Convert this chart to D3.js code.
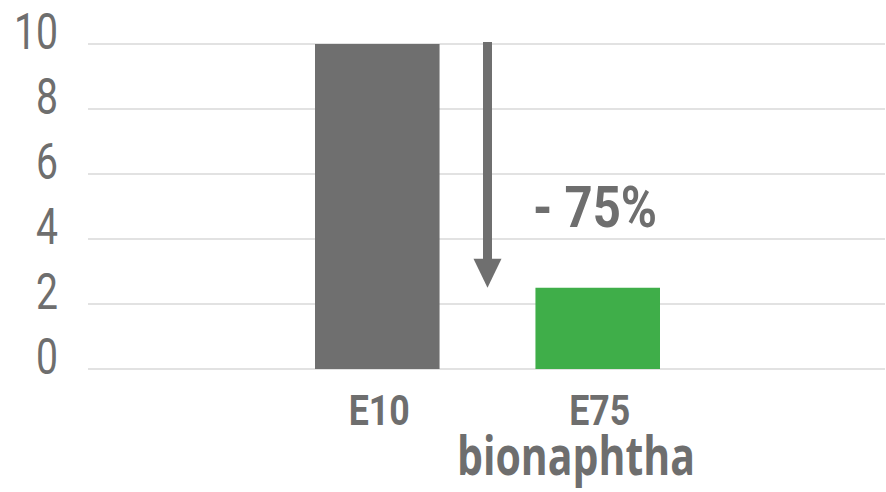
<!DOCTYPE html>
<html>
<head>
<meta charset="utf-8">
<script src="https://cdn.jsdelivr.net/npm/d3@7"></script>
<style>
  body { margin: 0; background: #fff; }
  svg { display: block; }
</style>
</head>
<body>
<div id="chart"></div>
<script>
const categories = ['E10', 'E75'];
const values = [10, 2.5];
const barColors = ['#6f6f6f', '#3fae49'];
const yTicks = [0, 2, 4, 6, 8, 10];
const changeLabel = '- 75%';
const subLabel = 'bionaphtha';

const width = 886, height = 492;
const narrow = 'Roboto, "Liberation Sans", sans-serif';

const svg = d3.select('#chart')
  .append('svg')
    .attr('width', width)
    .attr('height', height);

const x = d3.scaleBand()
  .domain(categories)
  .range([315, 660])
  .paddingInner(0.435)
  .paddingOuter(0);

const y = d3.scaleLinear()
  .domain([0, 10])
  .range([369, 44]);

// gridlines
svg.append('g')
  .selectAll('line')
  .data(yTicks)
  .enter().append('line')
    .attr('x1', 88)
    .attr('x2', 885)
    .attr('y1', d => y(d))
    .attr('y2', d => y(d))
    .attr('stroke', '#e2e2e2')
    .attr('stroke-width', 2);

// y tick labels (sit above each line), squeezed to look condensed
svg.append('g')
  .selectAll('text')
  .data(yTicks)
  .enter().append('text')
    .attr('x', 58)
    .attr('y', d => y(d) + 5)
    .attr('text-anchor', 'end')
    .attr('textLength', d => String(d).length * 22)
    .attr('lengthAdjust', 'spacingAndGlyphs')
    .style('font-family', narrow)
    .style('font-weight', 400)
    .style('font-size', '50px')
    .style('fill', '#6e6e6e')
    .text(d => d);

// bars
svg.append('g')
  .selectAll('rect')
  .data(categories)
  .enter().append('rect')
    .attr('x', d => x(d))
    .attr('width', x.bandwidth())
    .attr('y', (d, i) => y(values[i]))
    .attr('height', (d, i) => y(0) - y(values[i]))
    .attr('fill', (d, i) => barColors[i]);

// category labels
svg.append('g')
  .selectAll('text')
  .data(categories)
  .enter().append('text')
    .attr('x', d => x(d) + x.bandwidth() / 2 + 2)
    .attr('y', 425)
    .attr('text-anchor', 'middle')
    .attr('textLength', 61)
    .attr('lengthAdjust', 'spacingAndGlyphs')
    .style('font-family', narrow)
    .style('font-weight', 'bold')
    .style('font-size', '42px')
    .style('fill', '#6e6e6e')
    .text(d => d);

// arrow between the bars
const ax = (x(categories[0]) + x.bandwidth() + x(categories[1])) / 2;
const headTop = y(values[1]) - 29;
svg.append('line')
  .attr('x1', ax)
  .attr('x2', ax)
  .attr('y1', y(values[0]) - 2)
  .attr('y2', headTop + 1)
  .attr('stroke', '#6f6f6f')
  .attr('stroke-width', 9);

svg.append('path')
  .attr('d', `M${ax - 14},${headTop} L${ax + 14},${headTop} L${ax},${y(values[1])} Z`)
  .attr('fill', '#6f6f6f');

// change label
svg.append('text')
  .attr('x', 533)
  .attr('y', 227)
  .attr('textLength', 124)
  .attr('lengthAdjust', 'spacingAndGlyphs')
  .style('font-family', narrow)
  .style('font-weight', 'bold')
  .style('font-size', '58px')
  .style('fill', '#6e6e6e')
  .text(changeLabel);

// sub label
svg.append('text')
  .attr('x', 457)
  .attr('y', 475)
  .attr('textLength', 238)
  .attr('lengthAdjust', 'spacingAndGlyphs')
  .style('font-family', '"Open Sans", "Noto Sans", sans-serif')
  .style('font-weight', 'bold')
  .style('font-size', '53px')
  .style('fill', '#6e6e6e')
  .text(subLabel);
</script>
</body>
</html>
